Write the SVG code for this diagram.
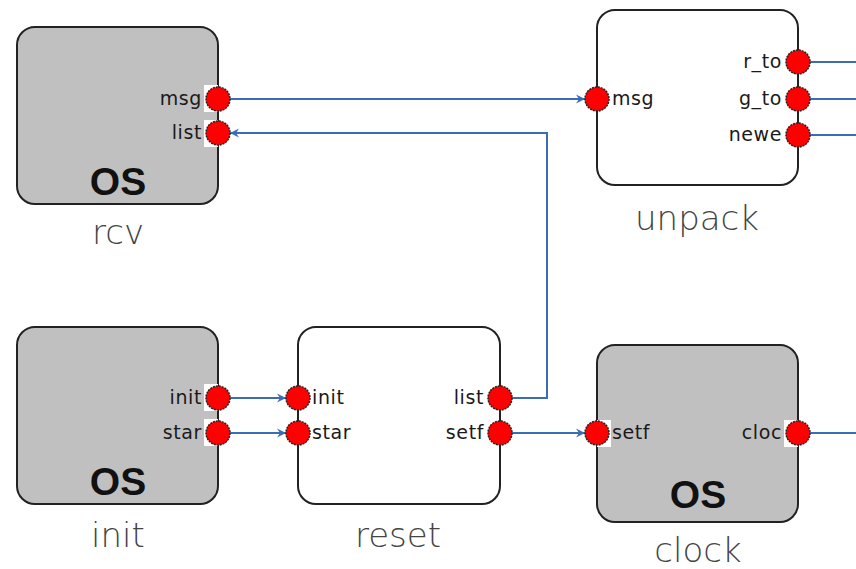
<svg xmlns="http://www.w3.org/2000/svg" width="856" height="569" viewBox="0 0 856 569">
<defs>
<style>
.box{stroke:#222;stroke-width:2}
.os{fill:#c0c0c0}
.plain{fill:#fff}
.port{fill:#ff0000;stroke:#222;stroke-width:1.5;stroke-dasharray:2 1}
.patch{fill:#fff}
.pl{font-family:"DejaVu Sans",sans-serif;font-size:19px;fill:#1a1a1a;letter-spacing:0.6px}
.ost{font-family:"Liberation Sans",Arial,sans-serif;font-size:39px;font-weight:bold;fill:#111;text-anchor:middle}
.nm{font-family:"DejaVu Sans",sans-serif;font-size:34px;fill:#444;text-anchor:middle;font-weight:300}
.wire{fill:none;stroke:#3a6db5;stroke-width:2}
</style>
<marker id="arr" markerUnits="userSpaceOnUse" markerWidth="12" markerHeight="12" refX="10" refY="6" orient="auto">
<path d="M1,1.5 L10,6 L1,10.5 L4,6 Z" fill="#3a6db5"/>
</marker>
</defs>

<g id="connectors">
<line class="wire" x1="230" y1="99" x2="585" y2="99" marker-end="url(#arr)"/>
<polyline class="wire" points="512,398 547,398 547,133 230,133" marker-end="url(#arr)"/>
<line class="wire" x1="230" y1="398" x2="286" y2="398" marker-end="url(#arr)"/>
<line class="wire" x1="230" y1="433" x2="286" y2="433" marker-end="url(#arr)"/>
<line class="wire" x1="512" y1="433" x2="585" y2="433" marker-end="url(#arr)"/>
<line class="wire" x1="810" y1="62" x2="856" y2="62"/>
<line class="wire" x1="810" y1="99" x2="856" y2="99"/>
<line class="wire" x1="810" y1="135" x2="856" y2="135"/>
<line class="wire" x1="810" y1="433" x2="856" y2="433"/>
</g>

<g id="rcv">
<rect class="box os" x="17" y="27" width="201" height="177" rx="18"/>
<rect class="patch" x="204" y="85" width="14" height="27"/>
<rect class="patch" x="204" y="120" width="14" height="27"/>
<circle class="port" cx="218" cy="99" r="12"/>
<circle class="port" cx="218" cy="133" r="12"/>
<text class="pl" x="202" y="105" text-anchor="end">msg</text>
<text class="pl" x="202" y="139" text-anchor="end">list</text>
<text class="ost" x="118" y="195">OS</text>
<text class="nm" x="118" y="244">rcv</text>
</g>

<g id="unpack">
<rect class="box plain" x="597" y="10" width="201" height="175" rx="18"/>
<circle class="port" cx="597" cy="99" r="12"/>
<circle class="port" cx="798" cy="62" r="12"/>
<circle class="port" cx="798" cy="99" r="12"/>
<circle class="port" cx="798" cy="135" r="12"/>
<text class="pl" x="612" y="105">msg</text>
<text class="pl" x="782" y="68" text-anchor="end">r_to</text>
<text class="pl" x="782" y="105" text-anchor="end">g_to</text>
<text class="pl" x="782" y="141" text-anchor="end">newe</text>
<text class="nm" x="697" y="230">unpack</text>
</g>

<g id="init">
<rect class="box os" x="17" y="327" width="201" height="177" rx="18"/>
<rect class="patch" x="204" y="384" width="14" height="27"/>
<rect class="patch" x="204" y="419" width="14" height="27"/>
<circle class="port" cx="218" cy="398" r="12"/>
<circle class="port" cx="218" cy="433" r="12"/>
<text class="pl" x="202" y="404" text-anchor="end">init</text>
<text class="pl" x="202" y="439" text-anchor="end">star</text>
<text class="ost" x="118" y="495">OS</text>
<text class="nm" x="118" y="547">init</text>
</g>

<g id="reset">
<rect class="box plain" x="298" y="327" width="202" height="177" rx="18"/>
<circle class="port" cx="298" cy="398" r="12"/>
<circle class="port" cx="298" cy="433" r="12"/>
<circle class="port" cx="500" cy="398" r="12"/>
<circle class="port" cx="500" cy="433" r="12"/>
<text class="pl" x="312" y="404">init</text>
<text class="pl" x="312" y="439">star</text>
<text class="pl" x="484" y="404" text-anchor="end">list</text>
<text class="pl" x="484" y="439" text-anchor="end">setf</text>
<text class="nm" x="398" y="547">reset</text>
</g>

<g id="clock">
<rect class="box os" x="597" y="345" width="201" height="177" rx="18"/>
<rect class="patch" x="597" y="420" width="14" height="27"/>
<rect class="patch" x="784" y="420" width="14" height="27"/>
<circle class="port" cx="597" cy="433" r="12"/>
<circle class="port" cx="798" cy="433" r="12"/>
<text class="pl" x="612" y="439">setf</text>
<text class="pl" x="782" y="439" text-anchor="end">cloc</text>
<text class="ost" x="698" y="508">OS</text>
<text class="nm" x="698" y="562">clock</text>
</g>
</svg>
